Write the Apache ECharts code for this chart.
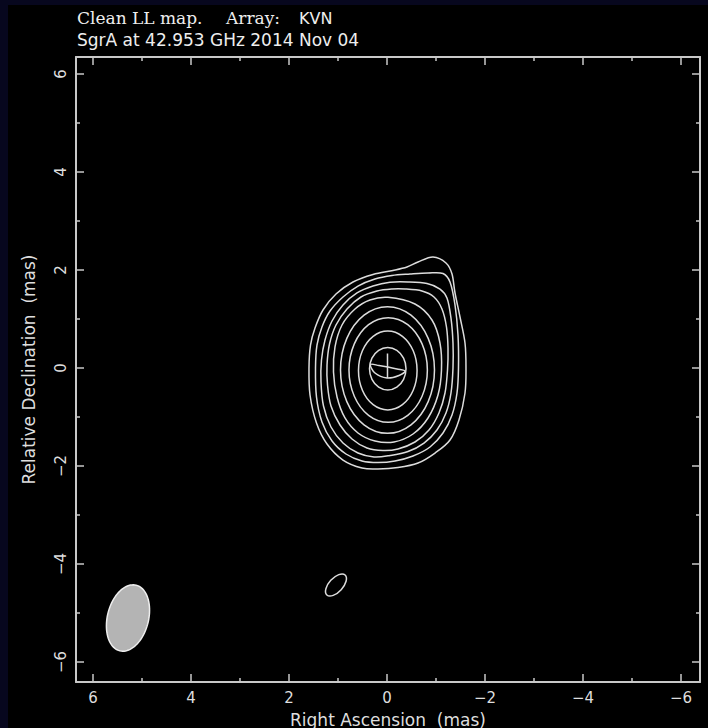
<!DOCTYPE html>
<html><head><meta charset="utf-8">
<script src="https://cdn.jsdelivr.net/npm/echarts@6/dist/echarts.min.js"></script>
<style>
html,body{margin:0;padding:0;background:#07071e;width:708px;height:728px;overflow:hidden}
#c{position:absolute;left:8px;top:5px;width:700px;height:723px;background:#000}
</style></head><body><div id="c"></div>
<script>
// ---- axes (mas) ----
const xRange = [-6.388, 6.347];
const yRange = [-6.408, 6.347];
const majorTicks = [-6, -4, -2, 0, 2, 4, 6];
const minorTicks = [-5, -3, -1, 1, 3, 5];

// ---- titles ----
const titleSerif1 = 'Clean LL map.';
const titleSerif2 = 'Array:';
const titleArray = 'KVN';
const titleLine2 = 'SgrA at 42.953 GHz 2014 Nov 04';
const xName = 'Right Ascension \u00a0(mas)';
const yName = 'Relative Declination \u00a0(mas)';

// ---- contours [RA offset, Dec offset] in mas ----
const ring1 = [[-0.939,2.265],[-1.204,2.143],[-1.327,1.918],[-1.388,1.531],[-1.490,1.041],[-1.592,0.510],[-1.612,0],[-1.592,-0.510],[-1.469,-1.061],[-1.286,-1.469],[-0.980,-1.735],[-0.633,-1.939],[-0.224,-2.031],[0.184,-2.061],[0.510,-2.041],[0.898,-1.878],[1.224,-1.551],[1.439,-1.122],[1.571,-0.551],[1.592,0],[1.561,0.469],[1.469,0.816],[1.306,1.184],[1.041,1.510],[0.694,1.755],[0.286,1.908],[-0.122,1.990],[-0.408,2.061],[-0.633,2.163]];
const ring2 = [[-1.143,1.929],[-1.286,1.755],[-1.388,1.286],[-1.449,0.673],[-1.459,0],[-1.429,-0.510],[-1.327,-0.959],[-1.143,-1.327],[-0.878,-1.612],[-0.531,-1.796],[-0.163,-1.898],[0.184,-1.929],[0.510,-1.898],[0.837,-1.755],[1.122,-1.490],[1.327,-1.102],[1.439,-0.592],[1.459,0],[1.429,0.469],[1.327,0.837],[1.163,1.163],[0.898,1.449],[0.592,1.673],[0.245,1.816],[-0.102,1.888],[-0.469,1.918],[-0.837,1.939]];
const ring3 = [[-0.816,1.724],[-1.082,1.612],[-1.224,1.429],[-1.306,1.020],[-1.347,0.510],[-1.347,0],[-1.306,-0.510],[-1.204,-0.918],[-1.020,-1.265],[-0.755,-1.531],[-0.429,-1.704],[-0.061,-1.786],[0.265,-1.816],[0.592,-1.735],[0.898,-1.531],[1.143,-1.204],[1.296,-0.776],[1.347,-0.286],[1.337,0.163],[1.265,0.571],[1.122,0.959],[0.898,1.286],[0.612,1.531],[0.286,1.673],[-0.061,1.749],[-0.429,1.755]];
const ring4 = [[-0.367,1.612],[-0.714,1.571],[-0.959,1.449],[-1.122,1.204],[-1.214,0.837],[-1.245,0.408],[-1.235,-0.041],[-1.184,-0.510],[-1.061,-0.918],[-0.857,-1.265],[-0.571,-1.510],[-0.224,-1.653],[0.082,-1.684],[0.408,-1.633],[0.714,-1.449],[0.959,-1.163],[1.143,-0.776],[1.214,-0.347],[1.224,0.061],[1.173,0.490],[1.041,0.878],[0.816,1.204],[0.531,1.449],[0.204,1.571],[-0.102,1.612]];
const ring5 = [[-0.020,1.443],[-0.571,1.306],[-0.918,0.980],[-1.082,0.510],[-1.112,-0.041],[-1.041,-0.551],[-0.837,-1.020],[-0.531,-1.347],[-0.143,-1.510],[0.245,-1.490],[0.592,-1.327],[0.857,-1.020],[1.020,-0.592],[1.092,-0.082],[1.061,0.429],[0.918,0.878],[0.653,1.204],[0.347,1.388]];
const ring6 = [[-0.969,-0.041],[-0.841,0.604],[-0.490,1.078],[-0.010,1.251],[0.469,1.078],[0.820,0.604],[0.949,-0.041],[0.820,-0.686],[0.469,-1.159],[-0.010,-1.333],[-0.490,-1.159],[-0.841,-0.686]];
const ring7 = [[-0.824,-0.041],[-0.716,0.492],[-0.424,0.884],[-0.024,1.027],[0.376,0.884],[0.667,0.492],[0.776,-0.041],[0.667,-0.576],[0.376,-0.965],[-0.024,-1.108],[-0.424,-0.965],[-0.716,-0.576]];
const ring8 = [[-0.614,-0.051],[-0.535,0.352],[-0.315,0.647],[-0.016,0.755],[0.283,0.647],[0.502,0.352],[0.582,-0.051],[0.502,-0.454],[0.283,-0.749],[-0.016,-0.857],[-0.315,-0.749],[-0.535,-0.454]];
const ring9 = [[-0.388,-0.015],[-0.338,0.201],[-0.201,0.360],[-0.015,0.418],[0.170,0.360],[0.307,0.201],[0.357,-0.015],[0.307,-0.232],[0.170,-0.391],[-0.015,-0.449],[-0.201,-0.391],[-0.338,-0.232]];
const smallContour = [[0.855,-4.224],[0.835,-4.353],[0.935,-4.524],[1.098,-4.641],[1.227,-4.633],[1.247,-4.504],[1.147,-4.333],[0.984,-4.216]];

// ---- model component (ellipse + cross) ----
const componentEllipse = [[0.337,0.071],[0.163,0.051],[-0.020,0.020],[-0.204,-0.020],[-0.367,-0.061],[-0.245,-0.153],[0.000,-0.204],[0.245,-0.102]];
const componentCross = [[-0.010,0.296],[-0.010,-0.204]];

// ---- restoring beam [RA, Dec, bmaj, bmin, PA(deg)] ----
const beam = [[5.286, -5.102, 1.38, 0.84, -14]];

// ---------------------------------------------------------------
const LINE = '#dcdcdc';
const FRAME = '#c8c8c8';
const TXT = '#dedede';
const fmt = v => (v < 0 ? '\u2212' + Math.abs(v) : String(v));

function axisBase(range, extra) {
  return Object.assign({
    type: 'value', min: range[0], max: range[1], gridIndex: 0,
    splitLine: { show: false },
    axisLine: { show: true, onZero: false, lineStyle: { color: FRAME, width: 2 } },
    axisLabel: { show: false },
    axisTick: { show: true, inside: true, length: 8, lineStyle: { color: FRAME, width: 1.5 } }
  }, extra);
}
function majorAxis(range, pos, withLabels, extra) {
  const a = axisBase(range, Object.assign({ position: pos }, extra));
  a.axisTick.customValues = majorTicks;
  if (withLabels) {
    a.axisLabel = { show: true, customValues: majorTicks, formatter: fmt, color: TXT,
      fontFamily: 'DejaVu Sans', fontSize: 15, margin: 8 };
  }
  return a;
}
function minorAxis(range, pos, extra) {
  const a = axisBase(range, Object.assign({ position: pos }, extra));
  a.axisLine.show = false;
  a.axisTick.length = 4;
  a.axisTick.customValues = minorTicks;
  return a;
}

const xAxes = [
  majorAxis(xRange, 'bottom', true, { inverse: true, name: xName, nameLocation: 'middle', nameGap: 29,
    nameTextStyle: { color: TXT, fontFamily: 'DejaVu Sans', fontSize: 17 } }),
  minorAxis(xRange, 'bottom', { inverse: true }),
  majorAxis(xRange, 'top', false, { inverse: true }),
  minorAxis(xRange, 'top', { inverse: true })
];
const yMain = majorAxis(yRange, 'left', true, { name: yName, nameLocation: 'middle', nameGap: 39, nameRotate: 90,
  nameTextStyle: { color: TXT, fontFamily: 'DejaVu Sans', fontSize: 17 } });
yMain.axisLabel.rotate = 90;
const yAxes = [yMain, minorAxis(yRange, 'left', {}), majorAxis(yRange, 'right', false, {}), minorAxis(yRange, 'right', {})];

// smooth curve (Catmull-Rom -> cubic Bezier) through the contour vertices, mapped by the axes
function curveSeries(pts, closed) {
  return {
    type: 'custom', xAxisIndex: 0, yAxisIndex: 0, data: pts, encode: { x: 0, y: 1 },
    silent: true, animation: false, clip: true,
    renderItem: function (params, api) {
      if (params.dataIndex !== 0) return null;
      const P = pts.map(p => api.coord(p));
      let d = 'M' + P[0][0].toFixed(2) + ' ' + P[0][1].toFixed(2);
      if (!closed) {
        for (let i = 1; i < P.length; i++) d += 'L' + P[i][0].toFixed(2) + ' ' + P[i][1].toFixed(2);
      } else {
        const n = P.length;
        for (let i = 0; i < n; i++) {
          const p0 = P[(i - 1 + n) % n], p1 = P[i], p2 = P[(i + 1) % n], p3 = P[(i + 2) % n];
          const c1 = [p1[0] + (p2[0] - p0[0]) / 6, p1[1] + (p2[1] - p0[1]) / 6];
          const c2 = [p2[0] - (p3[0] - p1[0]) / 6, p2[1] - (p3[1] - p1[1]) / 6];
          d += 'C' + c1[0].toFixed(2) + ' ' + c1[1].toFixed(2) + ' ' + c2[0].toFixed(2) + ' ' + c2[1].toFixed(2) +
               ' ' + p2[0].toFixed(2) + ' ' + p2[1].toFixed(2);
        }
        d += 'Z';
      }
      return { type: 'path', shape: { pathData: d }, style: { fill: null, stroke: LINE, lineWidth: 1.5 } };
    }
  };
}

function renderBeam(params, api) {
  const x0 = api.value(0), y0 = api.value(1), bmaj = api.value(2), bmin = api.value(3);
  const pa = api.value(4) * Math.PI / 180;
  const pts = [];
  for (let i = 0; i < 90; i++) {
    const t = i / 90 * 2 * Math.PI;
    const a = bmaj / 2 * Math.cos(t), b = bmin / 2 * Math.sin(t);
    const dE = a * Math.sin(pa) + b * Math.cos(pa);
    const dN = a * Math.cos(pa) - b * Math.sin(pa);
    pts.push(api.coord([x0 + dE, y0 + dN]));
  }
  return { type: 'polygon', shape: { points: pts }, style: { fill: '#b4b4b4', stroke: '#eeeeee', lineWidth: 1.5 } };
}

const series = [ring1, ring2, ring3, ring4, ring5, ring6, ring7, ring8, ring9, smallContour, componentEllipse]
  .map(r => curveSeries(r, true));
series.push(curveSeries(componentCross, false));
series.push({ type: 'custom', xAxisIndex: 0, yAxisIndex: 0, data: beam, renderItem: renderBeam,
  encode: { x: 0, y: 1 }, silent: true, animation: false });

const chart = echarts.init(document.getElementById('c'), null, { renderer: 'svg', width: 700, height: 723 });
chart.setOption({
  backgroundColor: '#000000',
  animation: false,
  grid: { left: 68, top: 52, width: 624, height: 625, containLabel: false, outerBoundsMode: 'none' },
  xAxis: xAxes,
  yAxis: yAxes,
  graphic: [
    { type: 'text', x: 69, y: 13, style: { text: titleSerif1, font: '17px "DejaVu Serif"', fill: '#eeeeee', verticalAlign: 'middle' } },
    { type: 'text', x: 218, y: 13, style: { text: titleSerif2, font: '17px "DejaVu Serif"', fill: '#eeeeee', verticalAlign: 'middle' } },
    { type: 'text', x: 291, y: 13, style: { text: titleArray, font: '16px "DejaVu Sans"', fill: '#eeeeee', verticalAlign: 'middle' } },
    { type: 'text', x: 69, y: 35, style: { text: titleLine2, font: '17px "DejaVu Sans"', fill: '#eeeeee', verticalAlign: 'middle' } }
  ],
  series: series
});
</script></body></html>
